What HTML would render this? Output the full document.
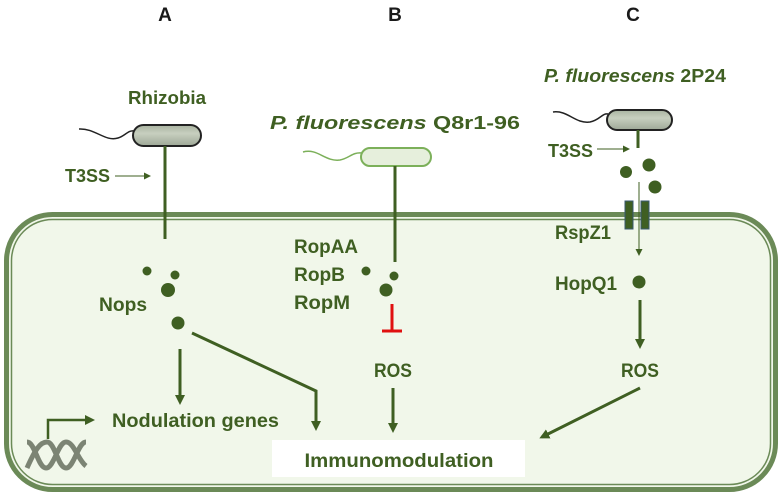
<!DOCTYPE html>
<html><head><style>html,body{margin:0;padding:0;background:#fff}svg{display:block}text{font-family:"Liberation Sans",sans-serif;font-weight:bold;fill:#3f5f22}</style></head><body>
<svg width="784" height="496" viewBox="0 0 784 496" xmlns="http://www.w3.org/2000/svg">
<defs>
<marker id="ah" markerWidth="10" markerHeight="10" refX="7" refY="5" orient="auto" markerUnits="userSpaceOnUse"><path d="M0,0 L10,5 L0,10 z" fill="#3f5f22"/></marker>
<marker id="ahs" markerWidth="7" markerHeight="7" refX="6" refY="3.5" orient="auto" markerUnits="userSpaceOnUse"><path d="M0,0 L7,3.5 L0,7 z" fill="#3f5f22"/></marker>
<linearGradient id="gb" x1="0" y1="0" x2="0" y2="1"><stop offset="0" stop-color="#a9b3a0"/><stop offset=".4" stop-color="#c7cfbf"/><stop offset="1" stop-color="#9ea897"/></linearGradient>
</defs>
<rect x="6.5" y="214.5" width="769" height="275" rx="46" fill="#f1f7ea" stroke="#6b8a57" stroke-width="5"/>
<rect x="11.5" y="219.5" width="759" height="265" rx="41" fill="none" stroke="#6b8a57" stroke-width="1.5"/>

<text x="165" y="21" font-size="19" text-anchor="middle" style="fill:#1a1a1a">A</text>
<text x="395" y="21" font-size="19" text-anchor="middle" style="fill:#1a1a1a">B</text>
<text x="633" y="21" font-size="19" text-anchor="middle" style="fill:#1a1a1a">C</text>

<!-- A -->
<text x="167" y="104" font-size="18.5" text-anchor="middle" textLength="78" lengthAdjust="spacingAndGlyphs">Rhizobia</text>
<path d="M79,129 C95,128 105,142 118,138 C125,136 128,130 134,131" fill="none" stroke="#222" stroke-width="1.5"/>
<rect x="133" y="125" width="68" height="21" rx="10.5" fill="url(#gb)" stroke="#222" stroke-width="2"/>
<line x1="165" y1="146" x2="165" y2="239" stroke="#3f5f22" stroke-width="3"/>
<text x="65" y="182" font-size="18" textLength="45" lengthAdjust="spacingAndGlyphs">T3SS</text>
<line x1="115" y1="176" x2="150" y2="176" stroke="#3f5f22" stroke-width="1" marker-end="url(#ahs)"/>
<circle cx="147" cy="271" r="4.5" fill="#3f5f22"/><circle cx="175" cy="275" r="4.5" fill="#3f5f22"/><circle cx="168" cy="290" r="7" fill="#3f5f22"/>
<text x="99" y="311" font-size="19" textLength="48" lengthAdjust="spacingAndGlyphs">Nops</text>
<circle cx="178" cy="323" r="6.5" fill="#3f5f22"/>
<line x1="180" y1="349" x2="180" y2="402" stroke="#3f5f22" stroke-width="3" marker-end="url(#ah)"/>
<polyline points="192,333 316,391 316,428" fill="none" stroke="#3f5f22" stroke-width="3" marker-end="url(#ah)"/>
<text x="112" y="427" font-size="19.5" textLength="167" lengthAdjust="spacingAndGlyphs">Nodulation genes</text>
<polyline points="48,439 48,420 92,420" fill="none" stroke="#3f5f22" stroke-width="2.5" marker-end="url(#ah)"/>
<g stroke="#7c8474" stroke-width="5" fill="none">
<path d="M27,468 C35,450 40,442 47,442 C55,442 58,468 66,468 C74,468 78,442 86,442"/>
<path d="M27,442 C35,442 38,468 46,468 C54,468 58,442 66,442 C74,442 78,460 86,466"/>
</g>
<rect x="272" y="440" width="253" height="37" fill="#fff"/>
<text x="399" y="467" font-size="19.5" text-anchor="middle" textLength="189" lengthAdjust="spacingAndGlyphs">Immunomodulation</text>

<!-- B -->
<text x="395" y="129" font-size="18.5" text-anchor="middle" textLength="250" lengthAdjust="spacingAndGlyphs"><tspan font-style="italic">P. fluorescens</tspan> Q8r1-96</text>
<path d="M303,152 C318,148 325,162 340,160 C350,158 352,152 362,153" fill="none" stroke="#7cb05a" stroke-width="1.5"/>
<rect x="361" y="148" width="70" height="18" rx="9" fill="#e6efdc" stroke="#7cb05a" stroke-width="2"/>
<line x1="395" y1="166" x2="395" y2="262" stroke="#3f5f22" stroke-width="3"/>
<text x="294" y="253" font-size="19" textLength="64" lengthAdjust="spacingAndGlyphs">RopAA</text>
<text x="294" y="281" font-size="19" textLength="51" lengthAdjust="spacingAndGlyphs">RopB</text>
<text x="294" y="309" font-size="19" textLength="56" lengthAdjust="spacingAndGlyphs">RopM</text>
<circle cx="366" cy="271" r="4.5" fill="#3f5f22"/><circle cx="394" cy="276" r="4.5" fill="#3f5f22"/><circle cx="386" cy="290" r="6.5" fill="#3f5f22"/>
<line x1="392" y1="304" x2="392" y2="331" stroke="#e01010" stroke-width="3"/>
<line x1="382" y1="331" x2="402" y2="331" stroke="#e01010" stroke-width="3"/>
<text x="393" y="377" font-size="19" text-anchor="middle" textLength="38" lengthAdjust="spacingAndGlyphs">ROS</text>
<line x1="393" y1="388" x2="393" y2="430" stroke="#3f5f22" stroke-width="3" marker-end="url(#ah)"/>

<!-- C -->
<text x="635" y="82" font-size="18.5" text-anchor="middle" textLength="182" lengthAdjust="spacingAndGlyphs"><tspan font-style="italic">P. fluorescens</tspan> 2P24</text>
<path d="M553,112 C568,110 575,124 590,122 C600,120 602,113 608,114" fill="none" stroke="#222" stroke-width="1.5"/>
<rect x="607" y="110" width="65" height="20" rx="10" fill="url(#gb)" stroke="#222" stroke-width="2"/>
<line x1="638" y1="130" x2="638" y2="148" stroke="#3f5f22" stroke-width="3"/>
<text x="548" y="157" font-size="18" textLength="45" lengthAdjust="spacingAndGlyphs">T3SS</text>
<line x1="597" y1="149" x2="629" y2="149" stroke="#3f5f22" stroke-width="1" marker-end="url(#ahs)"/>
<circle cx="626" cy="172" r="6" fill="#3f5f22"/><circle cx="649" cy="165" r="6.5" fill="#3f5f22"/><circle cx="655" cy="187" r="6.5" fill="#3f5f22"/>
<rect x="625" y="201" width="8" height="28" fill="#3f5f22" stroke="#3a5870" stroke-width="1"/>
<rect x="641" y="201" width="8" height="28" fill="#3f5f22" stroke="#3a5870" stroke-width="1"/>
<line x1="639" y1="182" x2="639" y2="255" stroke="#3f5f22" stroke-width="1" marker-end="url(#ahs)"/>
<text x="555" y="239" font-size="19" textLength="56" lengthAdjust="spacingAndGlyphs">RspZ1</text>
<text x="555" y="290" font-size="19" textLength="62" lengthAdjust="spacingAndGlyphs">HopQ1</text>
<circle cx="639" cy="282" r="6.5" fill="#3f5f22"/>
<line x1="640" y1="300" x2="640" y2="346" stroke="#3f5f22" stroke-width="3" marker-end="url(#ah)"/>
<text x="640" y="377" font-size="19" text-anchor="middle" textLength="38" lengthAdjust="spacingAndGlyphs">ROS</text>
<line x1="640" y1="388" x2="542" y2="437" stroke="#3f5f22" stroke-width="3" marker-end="url(#ah)"/>
</svg>
</body></html>
